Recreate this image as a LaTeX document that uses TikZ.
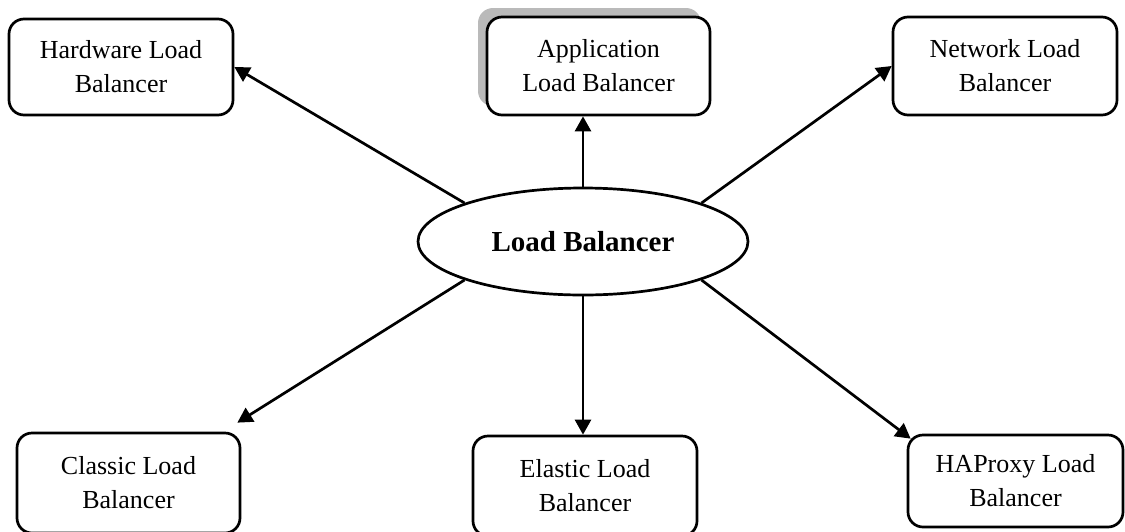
\documentclass[tikz,border=0pt]{standalone}
\usepackage{fontspec}
\setmainfont{Liberation Serif}
\usetikzlibrary{arrows.meta,shapes.geometric,calc,shadows}
\begin{document}
\begin{tikzpicture}[x=1pt,y=-1pt,
  lbbox/.style={draw,line width=2.7pt,rounded corners=15pt,align=center,
    inner sep=0pt,fill=white,font=\fontsize{26}{34}\selectfont},
  hub/.style={ellipse,draw,line width=2.7pt,inner sep=0pt,fill=white,
    minimum width=330pt,minimum height=107pt,
    font=\bfseries\fontsize{29}{34}\selectfont},
  arr/.style={line width=2.7pt,-{Triangle[length=15pt,width=16pt]}}]
\useasboundingbox (0,0) rectangle (1125,531);

% central load balancer
\node[hub] (lb) at (583,241.5) {Load Balancer};

% load balancer kinds
\node[lbbox,minimum width=224pt,minimum height=96pt] (hw) at (121,67)
  {Hardware Load\\Balancer};
\node[lbbox,minimum width=223pt,minimum height=98pt,
  drop shadow={shadow xshift=-9pt,shadow yshift=9pt,fill=black!27,opacity=1}]
  (app) at (598.5,66) {Application\\Load Balancer};
\node[lbbox,minimum width=224pt,minimum height=98pt] (nw) at (1005,66)
  {Network Load\\Balancer};
\node[lbbox,minimum width=223pt,minimum height=100pt] (cl) at (128.5,483)
  {Classic Load\\Balancer};
\node[lbbox,minimum width=224pt,minimum height=100pt] (el) at (585,486)
  {Elastic Load\\Balancer};
\node[lbbox,minimum width=215pt,minimum height=92pt] (ha) at (1015.5,481)
  {HAProxy Load\\Balancer};

% connectors
\draw[arr] (lb.162) -- (hw.east);
\draw[arr] (lb.north) -- (lb.north |- app.south);
\draw[arr] (lb.18) -- (nw.west);
\draw[arr] (lb.198) -- ($(cl.north east)+(-4,-9)$);
\draw[arr] (lb.south) -- (lb.south |- el.north);
\draw[arr] (lb.342) -- ($(ha.north west)+(4,5)$);
\end{tikzpicture}
\end{document}
